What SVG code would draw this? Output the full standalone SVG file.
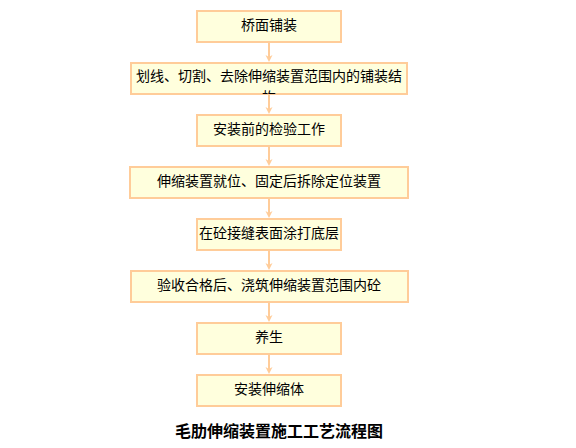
<svg xmlns="http://www.w3.org/2000/svg" width="576" height="448" viewBox="0 0 576 448">
<style>
.box{fill:#FFFFDD;stroke:#FFCC99;stroke-width:2}
.t{font-family:"Noto Sans CJK SC","Noto Sans CJK JP",sans-serif;font-size:14px;fill:#000;text-anchor:middle}
.title{font-family:"Noto Sans CJK SC","Noto Sans CJK JP",sans-serif;font-size:16px;font-weight:bold;fill:#000;text-anchor:middle}
.ln{stroke:#FFCC99;stroke-width:2;fill:none}
.ah{fill:#FFCC99}
</style>
<defs>
<clipPath id="c2"><rect x="130" y="62" width="278" height="32"/></clipPath>
<g id="arrowhead"><path class="ah" d="M-3.5,-7 L0,-5 L3.5,-7 L0,0 Z"/></g>
</defs>
<rect width="576" height="448" fill="#fff"/>
<g id="connectors">
<line class="ln" x1="269" y1="43" x2="269" y2="57"/><use href="#arrowhead" x="269" y="62"/>
<line class="ln" x1="269" y1="95" x2="269" y2="109"/><use href="#arrowhead" x="269" y="114"/>
<line class="ln" x1="269" y1="147" x2="269" y2="161"/><use href="#arrowhead" x="269" y="166"/>
<line class="ln" x1="269" y1="199" x2="269" y2="213"/><use href="#arrowhead" x="269" y="218"/>
<line class="ln" x1="269" y1="251" x2="269" y2="265"/><use href="#arrowhead" x="269" y="270"/>
<line class="ln" x1="269" y1="303" x2="269" y2="317"/><use href="#arrowhead" x="269" y="322"/>
<line class="ln" x1="269" y1="355" x2="269" y2="369"/><use href="#arrowhead" x="269" y="374"/>
</g>
<g id="n1"><rect class="box" x="197" y="11" width="144" height="31"/><text class="t" x="269" y="30">桥面铺装</text></g>
<g id="n2"><rect class="box" x="131" y="63" width="276" height="31"/><g clip-path="url(#c2)"><text class="t" x="269" y="81">划线、切割、去除伸缩装置范围内的铺装结</text><text class="t" x="269" y="102">构</text></g></g>
<g id="n3"><rect class="box" x="197" y="115" width="144" height="31"/><text class="t" x="269" y="134">安装前的检验工作</text></g>
<g id="n4"><rect class="box" x="130" y="167" width="278" height="31"/><text class="t" x="269" y="186">伸缩装置就位、固定后拆除定位装置</text></g>
<g id="n5"><rect class="box" x="197" y="219" width="144" height="31"/><text class="t" x="269" y="238">在砼接缝表面涂打底层</text></g>
<g id="n6"><rect class="box" x="131" y="271" width="277" height="31"/><text class="t" x="269" y="290">验收合格后、浇筑伸缩装置范围内砼</text></g>
<g id="n7"><rect class="box" x="197" y="323" width="144" height="31"/><text class="t" x="269" y="342">养生</text></g>
<g id="n8"><rect class="box" x="197" y="375" width="144" height="31"/><text class="t" x="269" y="394">安装伸缩体</text></g>
<text class="title" x="279" y="437">毛肋伸缩装置施工工艺流程图</text>
</svg>
